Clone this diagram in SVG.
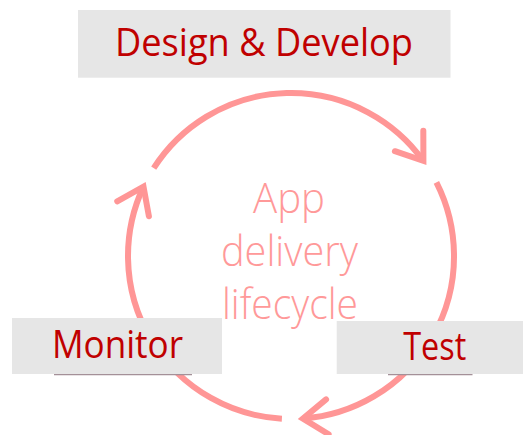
<svg xmlns="http://www.w3.org/2000/svg" width="523" height="435" viewBox="0 0 523 435">
  <style>
    .arc { fill: none; stroke: #ff9696; stroke-width: 6; stroke-linecap: butt; }
    .box { fill: #e6e6e6; }
    .lbl { font-family: "Open Sans", "Liberation Sans", sans-serif; font-size: 38px; fill: #c00000; text-anchor: middle; }
    .center { font-family: "Open Sans", "Liberation Sans", sans-serif; font-weight: 300; font-size: 43px; fill: #ff9999; text-anchor: middle; }
    .ul { stroke: #a49098; stroke-width: 1.2; }
  </style>
  <defs>
    <marker id="ah" markerUnits="userSpaceOnUse" orient="auto" markerWidth="40" markerHeight="40" viewBox="-30 -20 34 40" refX="0" refY="0" overflow="visible">
      <path d="M-24.5,-17.5 L0,0 L-24.5,17.5" fill="none" stroke="#ff9696" stroke-width="6" stroke-linecap="round" stroke-linejoin="miter"/>
    </marker>
  </defs>
  <g id="connectors">
    <path class="arc" d="M153.7,168.2 A163,163 0 0 1 423.4,160.9" marker-end="url(#ah)"/>
    <path class="arc" d="M436.4,182.3 A163,163 0 0 1 302.9,418.6" marker-end="url(#ah)"/>
    <path class="arc" d="M281.9,418.7 A163,163 0 0 1 143.5,186.6" marker-end="url(#ah)"/>
  </g>
  <g id="center-label">
    <text class="center" x="289" y="213" textLength="72" lengthAdjust="spacingAndGlyphs">App</text>
    <text class="center" x="289.5" y="266" textLength="137" lengthAdjust="spacingAndGlyphs">delivery</text>
    <text class="center" x="290" y="319" textLength="136" lengthAdjust="spacingAndGlyphs">lifecycle</text>
  </g>
  <g id="design">
    <rect class="box" x="78" y="10" width="372.5" height="67.7"/>
    <text class="lbl" x="264" y="56" textLength="298" lengthAdjust="spacingAndGlyphs">Design &amp; Develop</text>
  </g>
  <g id="monitor">
    <rect class="box" x="12" y="318" width="210" height="56"/>
    <line class="ul" x1="54" y1="374.6" x2="192" y2="374.6"/>
    <text class="lbl" x="117.5" y="358" textLength="131" lengthAdjust="spacingAndGlyphs">Monitor</text>
  </g>
  <g id="test">
    <rect class="box" x="336.7" y="321" width="190" height="53"/>
    <line class="ul" x1="388" y1="374.6" x2="472.5" y2="374.6"/>
    <text class="lbl" x="434.7" y="359.5" textLength="63" lengthAdjust="spacingAndGlyphs">Test</text>
  </g>
</svg>
